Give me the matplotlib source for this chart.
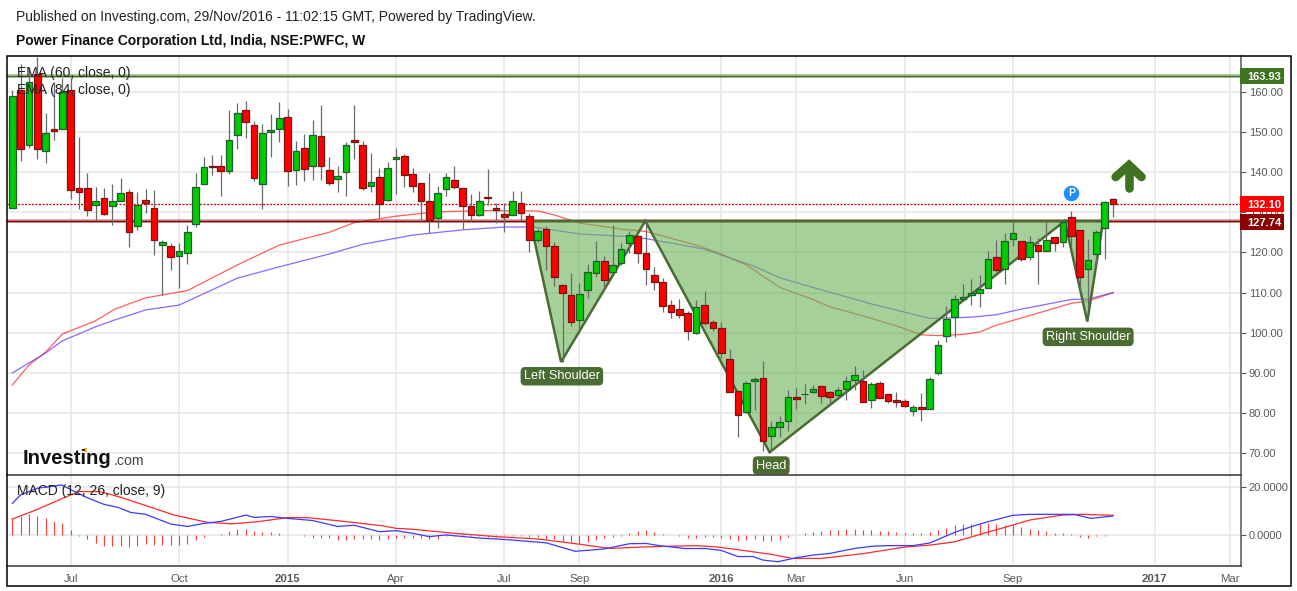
import matplotlib
matplotlib.use("Agg")
import matplotlib.pyplot as plt
from matplotlib.patches import Rectangle, Polygon

plt.rcParams['font.family'] = ['Liberation Sans', 'DejaVu Sans']

W, H = 1297, 591

opens = [131.0,160.4,146.8,164.3,145.3,150.8,150.8,160.3,135.9,135.9,131.7,133.4,131.5,132.7,134.9,126.6,133.0,131.0,121.8,121.5,
119.0,119.8,127.0,136.9,141.4,141.4,140.2,149.1,155.3,151.6,136.9,149.9,150.8,153.6,140.4,145.9,141.4,148.9,140.4,138.2,
139.9,147.9,146.6,136.4,138.7,133.0,143.1,143.9,139.4,137.2,132.9,128.5,135.7,137.9,135.9,131.5,129.2,133.7,131.0,129.5,
129.2,132.2,129.0,123.0,125.7,121.5,111.8,109.3,103.1,110.6,114.8,117.8,115.0,117.3,122.3,124.0,119.8,114.3,112.6,106.8,
105.9,104.9,99.9,106.8,102.6,101.1,93.4,85.5,80.2,87.9,88.7,74.3,76.5,78.0,84.0,84.7,85.2,86.7,85.2,84.5,
86.0,88.2,87.9,83.2,87.5,84.7,83.2,83.0,80.5,81.5,81.0,90.0,99.1,103.9,108.3,109.3,109.8,111.1,118.8,115.8,
123.3,122.8,118.8,121.8,120.3,123.8,122.5,128.7,125.5,115.8,119.5,126.0,133.2]
highs = [160.4,166.8,166.2,168.7,154.6,162.3,163.3,163.3,148.6,139.7,136.2,135.9,136.9,138.4,135.7,134.9,135.7,135.4,123.1,122.3,
122.3,126.7,139.7,143.6,144.1,144.1,155.3,157.1,157.6,152.6,151.8,154.3,157.3,155.6,147.6,149.4,152.8,156.6,143.6,141.6,
147.4,156.6,147.6,144.6,140.9,142.4,145.9,144.4,140.9,137.2,139.7,136.4,139.7,141.6,135.9,134.4,135.2,140.7,132.2,132.2,
135.2,135.2,129.7,125.7,126.5,122.5,111.8,114.9,112.3,117.0,122.8,119.0,126.7,122.3,125.2,124.3,128.2,116.3,113.6,108.1,
108.3,105.4,108.1,110.3,103.1,102.6,95.9,85.5,87.9,88.9,92.9,78.0,79.3,85.7,86.2,87.2,87.0,86.7,85.5,86.5,
89.2,91.7,90.7,87.7,87.9,84.7,85.2,83.5,82.0,85.0,88.9,98.1,106.6,109.3,112.1,113.3,114.3,120.3,123.0,124.8,
127.7,122.8,124.0,123.5,127.5,123.8,127.7,130.2,125.5,123.3,125.5,132.7,133.5]
lows = [131.0,142.7,146.0,143.1,142.3,148.0,150.8,133.3,130.9,129.1,128.1,129.4,126.9,132.7,121.4,125.6,129.7,119.4,109.4,115.7,
111.2,117.2,126.2,136.9,139.2,133.9,139.6,145.6,148.4,137.8,130.9,143.6,147.5,136.6,136.8,137.8,138.1,138.1,136.7,135.1,
134.1,143.2,135.4,134.9,128.6,132.7,134.4,136.2,134.9,127.5,124.9,126.0,134.1,135.7,125.7,127.5,129.0,131.7,127.2,125.0,
129.2,128.1,120.0,122.6,115.6,111.6,92.8,101.8,99.9,108.6,114.0,110.9,115.0,116.8,119.8,117.3,111.8,110.6,105.1,103.8,
103.6,98.3,99.6,101.9,100.4,93.7,85.2,74.2,80.0,80.7,70.6,70.6,74.2,75.7,81.0,82.2,85.0,82.6,82.0,83.5,
83.4,85.7,82.7,81.2,83.7,82.5,81.5,81.6,79.4,78.2,81.0,89.4,97.8,98.9,108.3,107.0,106.3,111.1,115.1,112.2,
121.5,117.8,118.0,112.2,120.3,120.3,121.3,121.3,110.3,106.5,117.3,118.3,128.7]
closes = [158.8,145.8,162.3,145.8,149.8,150.3,159.8,135.4,134.9,130.5,132.7,129.6,132.7,134.7,125.0,131.7,132.3,123.0,122.5,118.8,
120.3,125.0,136.2,141.2,141.2,140.2,147.9,154.6,152.3,138.4,149.6,150.4,153.3,140.2,145.1,140.7,149.1,141.4,137.2,138.9,
146.6,147.4,135.9,137.4,132.0,141.1,143.6,139.2,136.4,132.7,128.0,134.7,138.7,136.2,131.5,129.2,132.9,133.6,130.5,128.7,
132.9,129.7,123.0,125.2,121.5,113.8,109.8,102.6,109.6,115.0,117.8,113.1,116.8,120.8,124.3,119.8,115.8,112.6,106.6,105.1,
104.4,100.4,106.3,102.4,101.1,94.9,85.2,79.5,87.5,88.4,73.0,76.5,77.8,84.0,83.5,84.8,86.0,84.2,84.0,85.7,
87.9,89.4,82.7,87.2,83.7,83.0,82.7,81.7,81.5,81.0,88.4,96.9,103.4,108.3,108.8,109.8,110.8,118.3,115.6,122.8,
124.8,118.3,122.5,120.3,123.0,122.3,127.5,124.0,113.8,118.0,125.0,132.5,132.1]

ema60_idx = [0,2,4,6,10,12.3,16,21,27,32,38,41,46,51,57,63,65,68,73,76,82,84.5,88,92,96,98,103,106.5,109,111,114,116,118,123,127,129,132]
ema60_val = [87,92,95.2,99.7,103,105.9,108.7,110.5,116.9,121.8,125,127.4,129,130.1,130.4,130.3,129.3,127.3,125.8,125.2,121.8,120,116.9,111.3,108.3,106.5,103.6,101.4,99.5,99.3,99.6,100.2,101.9,104.9,107.35,107.9,110]
ema84_idx = [0,2,4,6,10,12,16,20,27,32,38,42,48,54,59,62.5,68,74,76,78,83,89,92,97,103,110,111,115,118,121,127,129,132]
ema84_val = [90,92.5,95,98,101.5,103,105.7,106.9,113.6,116.4,119.6,122,124.3,125.6,126.3,126.3,124.6,123.9,123.4,122.7,120.8,116.5,113.7,110.7,107.2,103.6,103.6,103.9,104.5,105.9,108.3,108.4,110]

macd_idx = [0,1,3,5.9,7,9,11,12.7,14.2,16,19,21,23,25,28,29,31,33,36,39,41,44,46,48,50,52,56,59,64,67.5,71,74,76,77.6,80.6,83,85,87,88.8,90,91.8,94,96,98,101,103,105,108,110,113,115,117,120,122,127.3,129.3,132]
macd_val = [13.2,16.8,19.6,21,19,15.6,12.8,11.5,9.4,8.6,4.5,3.5,4.8,5.6,8.3,7.3,7.7,6.9,6,3.5,4,1.3,1.7,0.6,-0.8,-0.1,-1.4,-2,-3.4,-7,-6,-3.8,-3.7,-4.6,-5.8,-5.8,-6.6,-9.2,-9.2,-10.7,-11.4,-9.7,-8.6,-7.9,-5.8,-4.9,-4.6,-4.6,-3.5,1,3.4,5.5,8.2,8.6,8.6,6.9,7.9]
signal_idx = [0,3,7,8,10.5,13,16,19.4,23.4,26.4,29.4,33,35.4,39.3,44.3,46,48,53,58,63,68,71.7,76,82,84.6,87,91,93.5,97,102,107,110,113,116,120,122,124,126,128.3,132]
signal_val = [6.6,10.7,16.8,18.2,18.2,15.8,12.3,8.3,5.2,4.6,5.5,7.2,7.2,5.8,3.8,2.7,2.3,0.6,-0.8,-1.8,-4,-5.8,-5.1,-4.6,-5.2,-6.3,-8.3,-10,-10,-8,-5.2,-4.4,-3,0.1,4.1,6.2,7.3,8.3,8.6,8.2]
hist_val = [6.9,7.7,8.7,7.9,7,5.8,4.9,2,-0.4,-2,-3.5,-4.6,-4.8,-4.8,-5,-4.8,-3.9,-4.2,-4.2,-4.4,-4.4,-3.9,-2.4,-1,0,0.4,1.5,2.4,2.4,1.7,
1.3,1.1,0.7,-0.1,-0.2,-0.6,-1.4,-1.4,-1.4,-2.2,-2.1,-1.8,-1.8,-1.8,-2.2,-1.8,-1.4,-1.3,-1.4,-1.5,-1.7,-1.8,-0.7,-0.7,-0.6,-0.7,-0.7,-1.1,-1,-0.6,
-0.4,-0.7,-1,-1.1,-1.7,-2,-2.5,-3,-3.7,-3,-2.2,-1.5,-1,-0.4,0.7,1.5,1.8,1.1,0.3,-0.3,-0.7,-1.3,-1.3,-1,-1,-1.3,-1.8,-2.5,-2.1,-1.8,
-2.5,-2.7,-2.1,-0.8,0,0.6,1.3,1.5,2,2.1,2.3,2.4,2,2,1.5,1.5,1.1,0.7,0.6,0.7,1.3,2,3,4.1,4.5,4.5,4.5,5.1,4.5,4.1,
4.1,3.4,2.4,2.1,1.5,0.7,0.6,0.3,-0.8,-1.3,-0.7,-0.4,0]

pattern_idx = [62.1,65.8,75.9,90.8,126.2,128.9,130.8]
pattern_val = [127.8,92.75,127.8,70.3,127.8,102.8,127.8]
resistance = 127.74
last_price = 132.10
top_level = 163.93

price_ticks = [70,80,90,100,110,120,130,140,150,160]
macd_ticks = [0,20]
time_idx = [7,20,33,46,59,68,85,94,107,120,137,146]
time_lab = ['Jul','Oct','2015','Apr','Jul','Sep','2016','Mar','Jun','Sep','2017','Mar']
bold_lab = {'2015','2016','2017'}

GRID = '#e6e6e6'
UP, DOWN = '#00cc00', '#ff0000'
UP_E, DOWN_E = '#1f5c2e', '#7a1212'
PAT = '#4a6b31'
TICK = '#5a5a5a'

fig = plt.figure(figsize=(W/100, H/100), dpi=100, facecolor='white')

def axbox(x0, y0, x1, y1):
    return [x0/W, 1-y1/H, (x1-x0)/W, (y1-y0)/H]

ax = fig.add_axes(axbox(7, 56, 1240.5, 475))
am = fig.add_axes(axbox(7, 475, 1240.5, 566), sharex=ax)
ax.set_xlim(-0.635, 147.27)
ax.set_ylim(64.65, 168.83)
am.set_ylim(-13.2, 25.2)

for a in (ax, am):
    a.set_axisbelow(True)
    a.grid(True, color=GRID, lw=1.1)
    a.yaxis.tick_right()
    for s in a.spines.values():
        s.set_visible(False)
    a.spines['right'].set_visible(True)
    a.spines['right'].set_color('#555555')
    a.spines['right'].set_linewidth(1.1)
    a.set_xticks(time_idx)
    a.tick_params(axis='y', colors=TICK, labelsize=8.0, length=3.5, width=0.8, pad=2.5)
    a.tick_params(axis='x', length=0)
ax.set_yticks(price_ticks)
ax.set_yticklabels([f'{v:.2f}' for v in price_ticks])
am.set_yticks(macd_ticks)
am.set_yticklabels([f'{v:.4f}' for v in macd_ticks])
ax.tick_params(axis='x', labelbottom=False)
am.set_xticklabels(time_lab)
am.tick_params(axis='x', colors=TICK, labelsize=8.2, pad=6)
for lab in am.get_xticklabels():
    if lab.get_text() in bold_lab:
        lab.set_fontweight('bold')
am.spines['top'].set_visible(True)
am.spines['top'].set_color('#444444')
am.spines['top'].set_linewidth(1.2)
am.spines['bottom'].set_visible(True)
am.spines['bottom'].set_color('#444444')
am.spines['bottom'].set_linewidth(1.2)

# moving averages (below the pattern)
ax.plot(ema60_idx, ema60_val, color='#ff2a2a', lw=0.9, alpha=0.75, zorder=2)
ax.plot(ema84_idx, ema84_val, color='#6a35ff', lw=0.9, alpha=0.75, zorder=2)

# level lines
ax.axhline(top_level, color='#5c8a3c', lw=2.6, alpha=0.55, zorder=2.2)
ax.axhline(top_level, color='#3f6b22', lw=0.9, zorder=2.3)
ax.axhline(resistance, color='#8b0000', lw=2.6, alpha=0.4, zorder=2.2)
ax.axhline(resistance, color='#8b0000', lw=1.0, zorder=2.3)
ax.axhline(last_price, color='#d40000', lw=0.9, ls=(0, (1.6, 1.2)), zorder=2.3)

# pattern
ax.add_patch(Polygon(list(zip(pattern_idx, pattern_val)), closed=True, facecolor='#6eb45a',
                     alpha=0.62, edgecolor='none', zorder=3))
ax.add_patch(Polygon(list(zip(pattern_idx, pattern_val)), closed=True, fill=False,
                     edgecolor=PAT, lw=1.8, joinstyle='miter', zorder=3.1))

# candles
xs = list(range(len(closes)))
ax.vlines(xs, lows, highs, color='#6a6a6a', lw=0.9, zorder=4)
bottoms = [min(o, c) for o, c in zip(opens, closes)]
heights = [abs(o - c) for o, c in zip(opens, closes)]
cols = [UP if c >= o else DOWN for o, c in zip(opens, closes)]
edges = [UP_E if c >= o else DOWN_E for o, c in zip(opens, closes)]
ax.bar(xs, heights, bottom=bottoms, width=0.8, color=cols, edgecolor=edges, linewidth=0.9, zorder=5)

# MACD
am.vlines(xs, 0, hist_val, color='#ff3b3b', lw=0.8, zorder=2)
am.plot(signal_idx, signal_val, color='#ff2a2a', lw=0.9, zorder=3)
am.plot(macd_idx, macd_val, color='#3a3aff', lw=0.9, zorder=3.5)

# annotations
lab_kw = dict(ha='center', va='center', color='white', fontsize=9.2, zorder=7,
              bbox=dict(boxstyle='round,pad=0.2,rounding_size=0.3', fc=PAT, ec=PAT))
ax.text(65.9, 89.2, 'Left Shoulder', **lab_kw)
ax.text(91, 67.0, 'Head', **lab_kw)
ax.text(129, 99.0, 'Right Shoulder', **lab_kw)

ARROW = '#3e731f'
ax.plot([133.9, 133.9], [136, 141.5], color=ARROW, lw=6.2, solid_capstyle='round', zorder=6)
ax.plot([132.3, 133.9, 135.4], [138.75, 141.7, 138.75], color=ARROW, lw=6.2,
        solid_capstyle='round', solid_joinstyle='miter', zorder=6)
ax.scatter([127], [134.8], s=125, color='#1e90ff', zorder=6, linewidths=0)
ax.text(127, 134.8, 'P', color='white', fontsize=7.5, fontweight='bold', ha='center', va='center', zorder=7)

def ftext(x, y, s, **kw):
    kw.setdefault('va', 'center')
    return fig.text(x/W, 1-y/H, s, **kw)

ftext(16, 17.5, 'Published on Investing.com, 29/Nov/2016 - 11:02:15 GMT, Powered by TradingView.', fontsize=10.0, color='#222222')
ftext(16, 40.5, 'Power Finance Corporation Ltd, India, NSE:PWFC, W', fontsize=10.0, fontweight='bold', color='#111111')
ftext(17, 73, 'EMA (60, close, 0)', fontsize=10.0, color='#222222', zorder=8)
ftext(17, 90, 'EMA (84, close, 0)', fontsize=10.0, color='#222222', zorder=8)
ftext(17, 491.5, 'MACD (12, 26, close, 9)', fontsize=10.0, color='#222222', zorder=8)
ftext(22.5, 459, 'Investing', fontsize=14.6, fontweight='bold', color='#111111', zorder=8)
ftext(113.5, 461, '.com', fontsize=10.2, color='#444444', zorder=8)
fig.patches.append(Rectangle((84/W, 1-452/H), 3/W, 4/H, transform=fig.transFigure, facecolor='#f5a623', edgecolor='none', zorder=8))

# price flags
for y0, y1, col, txt in [(68, 84, '#3e731f', f'{top_level:.2f}'),
                         (196, 212, '#ff0000', f'{last_price:.2f}'),
                         (214, 230, '#8b0000', f'{resistance:.2f}')]:
    fig.patches.append(Rectangle((1240/W, 1-y1/H), 44/W, (y1-y0)/H, transform=fig.transFigure,
                                 facecolor=col, edgecolor='none', zorder=8))
    ftext(1264, (y0+y1)/2+0.5, txt, fontsize=8.0, fontweight='bold', color='white', ha='center', zorder=9)

# outer frame
fig.patches.append(Rectangle((7/W, 1-586/H), 1284/W, 530/H, transform=fig.transFigure,
                             fill=False, edgecolor='black', lw=1.1, zorder=10))

fig.savefig('out.png', dpi=100)
